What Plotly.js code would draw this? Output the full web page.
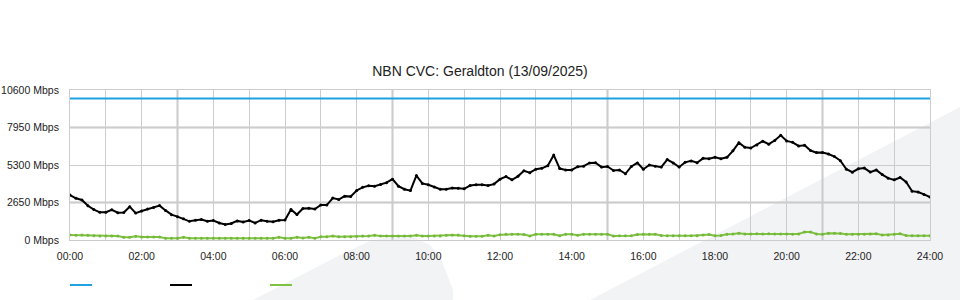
<!DOCTYPE html>
<html>
<head>
<meta charset="utf-8">
<script src="https://cdn.plot.ly/plotly-3.0.1.min.js"></script>
<style>
  html, body { margin: 0; padding: 0; background: #ffffff; }
  #chart { width: 960px; height: 300px; }
</style>
</head>
<body>
<div id="chart"></div>
<script>
// ---- Data ----
const chartTitle = "NBN CVC: Geraldton (13/09/2025)";
const stepMinutes = 10; // samples every 10 minutes, 00:00 .. 24:00

// Provisioned CVC capacity (Mbps)
const capacityHours = [0, 24];
const capacityMbps = [10000, 10000];

// Traffic (Mbps), 145 samples at 10-minute intervals
const trafficMbps = [
  3180, 2945, 2830, 2420, 2150, 1955, 1960, 2130, 1930, 1940,
  2355, 1900, 2050, 2190, 2300, 2430, 2090, 1790, 1650, 1500,
  1320, 1400, 1450, 1320, 1380, 1200, 1100, 1170, 1350, 1280,
  1380, 1200, 1400, 1320, 1296, 1400, 1420, 2150, 1800, 2220,
  2238, 2190, 2480, 2470, 2960, 2860, 3100, 3080, 3500, 3720,
  3830, 3800, 3920, 4050, 4300, 3800, 3590, 3490, 4550, 4000,
  3900, 3750, 3590, 3590, 3680, 3650, 3620, 3850, 3910, 3900,
  3850, 3950, 4300, 4480, 4250, 4500, 4890, 4760, 5000, 5065,
  5250, 6000, 5050, 4950, 4950, 5180, 5220, 5450, 5465, 5150,
  5200, 4910, 4947, 4680, 5200, 5450, 5000, 5300, 5220, 5150,
  5680, 5450, 5150, 5490, 5590, 5460, 5771, 5750, 5841, 5740,
  5841, 6300, 6870, 6550, 6500, 6713, 6980, 6770, 7030, 7400,
  7000, 6900, 6650, 6690, 6320, 6175, 6190, 6080, 5900, 5600,
  5000, 4790, 5030, 5080, 4800, 4950, 4620, 4370, 4250, 4420,
  4100, 3450, 3390, 3220, 3030
];

// Second series (Mbps), 145 samples at 10-minute intervals
const secondMbps = [
  350, 340, 360, 340, 300, 283, 283, 283, 283, 190,
  190, 270, 212, 212, 212, 212, 130, 118, 118, 190,
  118, 118, 118, 118, 118, 118, 118, 118, 118, 118,
  118, 118, 118, 118, 118, 200, 118, 118, 190, 140,
  190, 130, 236, 236, 283, 236, 236, 236, 260, 283,
  283, 340, 283, 283, 283, 283, 283, 283, 340, 283,
  283, 283, 283, 330, 353, 353, 300, 260, 260, 260,
  330, 283, 370, 400, 400, 400, 380, 290, 400, 400,
  400, 400, 300, 400, 400, 330, 400, 400, 400, 400,
  400, 290, 300, 300, 300, 380, 400, 400, 400, 320,
  306, 306, 306, 306, 306, 306, 350, 380, 306, 320,
  400, 420, 470, 420, 420, 450, 420, 440, 420, 420,
  430, 400, 430, 560, 560, 420, 400, 470, 470, 460,
  400, 400, 400, 400, 420, 440, 353, 353, 400, 440,
  320, 306, 306, 306, 306
];

const xTickVals = [0, 2, 4, 6, 8, 10, 12, 14, 16, 18, 20, 22, 24];
const xTickText = ["00:00", "02:00", "04:00", "06:00", "08:00", "10:00", "12:00",
                   "14:00", "16:00", "18:00", "20:00", "22:00", "24:00"];
const yTickVals = [0, 2650, 5300, 7950, 10600];
const yTickText = ["0 Mbps", "2650 Mbps", "5300 Mbps", "7950 Mbps", "10600 Mbps"];

// ---- Build ----
const sampleHours = trafficMbps.map((_, i) => i * stepMinutes / 60);

const traces = [
  { x: capacityHours, y: capacityMbps, name: " ", type: "scatter", mode: "lines",
    line: { color: "#1da1e0", width: 2 } },
  { x: sampleHours, y: trafficMbps, name: " ", type: "scatter", mode: "lines+markers",
    line: { color: "#000000", width: 2 }, marker: { size: 3, color: "#000000" } },
  { x: sampleHours, y: secondMbps, name: " ", type: "scatter", mode: "lines+markers",
    line: { color: "#7fc241", width: 2 }, marker: { size: 3, color: "#74b83a" } }
];

const P = (px) => (px - 70) / 860;
const Q = (py) => (240 - py) / 150;
const wm = "#f2f3f5";

const shapes = [
  // background watermark
  { type: "path", xref: "paper", yref: "paper", layer: "below", line: { width: 0 }, fillcolor: wm,
    path: `M ${P(590)},${Q(300)} L ${P(960)},${Q(107)} L ${P(960)},${Q(300)} Z` },
  { type: "path", xref: "paper", yref: "paper", layer: "below", line: { width: 0 }, fillcolor: wm,
    path: `M ${P(253)},${Q(300)} L ${P(340)},${Q(255)} L ${P(370)},${Q(241)} L ${P(395)},${Q(236)} L ${P(415)},${Q(238)} L ${P(430)},${Q(245)} L ${P(440)},${Q(256)} L ${P(453)},${Q(290)} L ${P(453)},${Q(300)} Z` }
];
// slightly heavier grid lines
[3, 9, 15, 21].forEach(h => shapes.push({ type: "line", xref: "x", yref: "paper", x0: h, x1: h, y0: 0, y1: 1,
  layer: "below", line: { color: "#c6c6c6", width: 2 } }));
[2650, 7950].forEach(v => shapes.push({ type: "line", xref: "paper", yref: "y", x0: 0, x1: 1, y0: v, y1: v,
  layer: "below", line: { color: "#c6c6c6", width: 2 } }));

const font = "Liberation Sans, Arial, sans-serif";

const layout = {
  width: 960, height: 300,
  margin: { l: 70, r: 30, t: 90, b: 60 },
  paper_bgcolor: "#ffffff",
  plot_bgcolor: "rgba(0,0,0,0)",
  font: { family: font, size: 10.5, color: "#222222" },
  title: { text: chartTitle, font: { family: font, size: 14, color: "#222222" },
           x: 0.5, xref: "container", y: 1 - 71 / 300, yref: "container", yanchor: "middle" },
  showlegend: true,
  legend: { orientation: "h", x: -5 / 860, xref: "paper", xanchor: "left", y: 1 - 285 / 300, yref: "container",
            yanchor: "middle", entrywidth: 55, entrywidthmode: "pixels", font: { size: 10.5 },
            bgcolor: "rgba(0,0,0,0)" },
  xaxis: { range: [0, 24], tickvals: xTickVals, ticktext: xTickText, showgrid: true, gridcolor: "#cccccc",
           gridwidth: 1, zeroline: false, showline: true, linecolor: "#cccccc", mirror: true,
           ticks: "", ticklabelstandoff: 6, fixedrange: true,
           minor: { dtick: 1, showgrid: true, gridcolor: "#cccccc", gridwidth: 1 } },
  yaxis: { range: [0, 10600], tickvals: yTickVals, ticktext: yTickText, showgrid: true, gridcolor: "#cccccc",
           gridwidth: 1, zeroline: false, showline: true, linecolor: "#cccccc", mirror: true,
           ticks: "", ticklabelstandoff: 8, fixedrange: true },
  shapes: shapes,
  hovermode: false
};

Plotly.newPlot("chart", traces, layout, { displayModeBar: false, staticPlot: true }).then(() => {
  // legend swatches in the reference are short plain line segments
  document.querySelectorAll("#chart .legend .legendpoints").forEach(g => g.remove());
  document.querySelectorAll("#chart .legend .legendlines path").forEach(p => p.setAttribute("d", "M5,0h22"));
});
</script>
</body>
</html>
